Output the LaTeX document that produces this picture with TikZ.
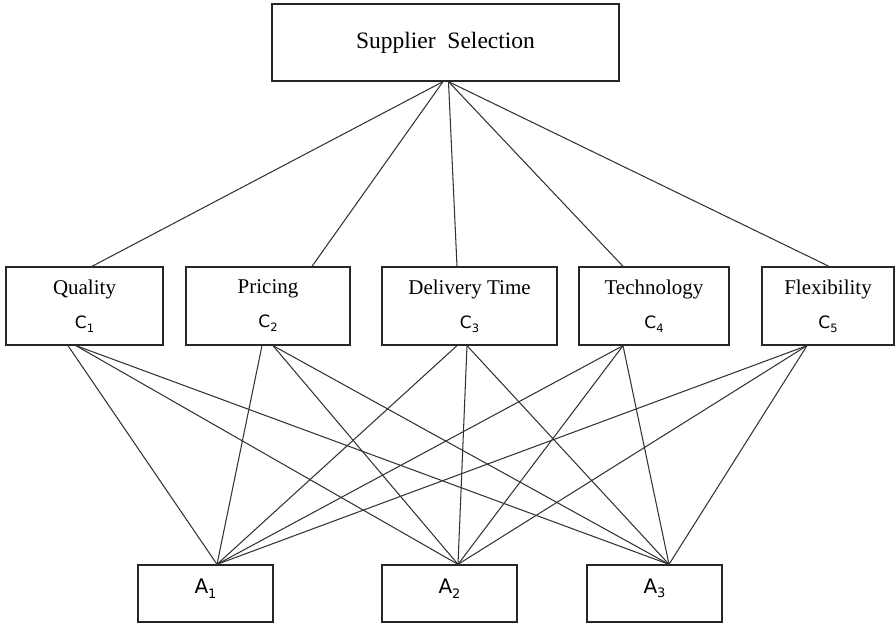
\documentclass[tikz,border=0pt]{standalone}
\usepackage{fontspec}
\setmainfont{Liberation Serif}
\newfontfamily\labsans{DejaVu Sans}
\newcommand{\critlab}[1]{{\labsans\fontsize{17}{17}\selectfont C\raisebox{-4pt}{\fontsize{11.5}{12}\selectfont #1}}}
\newcommand{\altlab}[1]{{\labsans\fontsize{20}{20}\selectfont A\raisebox{-4.5pt}{\fontsize{13}{13}\selectfont #1}}}
\begin{document}
\begin{tikzpicture}[x=1pt,y=-1pt,
  box/.style={draw=black!85, line width=1.3pt, inner sep=0pt, align=center},
  critbox/.style={box, minimum height=78pt, font=\fontsize{21}{24}\selectfont},
  altbox/.style={box, minimum width=135pt, minimum height=57pt},
  link/.style={draw=black!80, line width=1.05pt}]
\useasboundingbox (0,0) rectangle (895,623);
% top
\node[box, minimum width=347pt, minimum height=77pt, font=\fontsize{23.5}{26}\selectfont] (top) at (445.5,42.5) {Supplier~~Selection};
% criteria
\node[critbox, minimum width=157pt] (q) at (84.5,306) {Quality\\[10pt]\critlab{1}};
\node[critbox, minimum width=164pt] (p) at (268,306) {Pricing\\[10pt]\critlab{2}};
\node[critbox, minimum width=175pt] (d) at (469.5,306) {Delivery Time\\[10pt]\critlab{3}};
\node[critbox, minimum width=150pt] (t) at (654,306) {Technology\\[10pt]\critlab{4}};
\node[critbox, minimum width=132pt] (f) at (828,306) {Flexibility\\[10pt]\critlab{5}};
% alternatives
\node[altbox] (a1) at (205.5,593.5) {};
\node[altbox] (a2) at (449.5,593.5) {};
\node[altbox] (a3) at (654.5,593.5) {};
\node (a1t) at ([yshift=5pt]a1.center) {\altlab{1}};
\node (a2t) at ([yshift=5pt]a2.center) {\altlab{2}};
\node (a3t) at ([yshift=5pt]a3.center) {\altlab{3}};
% top links
\draw[link] ([xshift=-2.5pt]top.south) -- ([xshift=7.5pt]q.north);
\draw[link] ([xshift=-2.5pt]top.south) -- ([xshift=44pt]p.north);
\draw[link] ([xshift=3pt]top.south) -- ([xshift=-12.5pt]d.north);
\draw[link] ([xshift=3pt]top.south) -- ([xshift=-31pt]t.north);
\draw[link] ([xshift=3pt]top.south) -- ([xshift=1pt]f.north);
% bottom links
\draw[link] ([xshift=-16.5pt]q.south) -- ([xshift=11.5pt]a1.north);
\draw[link] ([xshift=-8.5pt]q.south) -- ([xshift=8.5pt]a2.north);
\draw[link] ([xshift=-8.5pt]q.south) -- ([xshift=14.5pt]a3.north);
\draw[link] ([xshift=-6pt]p.south) -- ([xshift=11.5pt]a1.north);
\draw[link] ([xshift=5pt]p.south) -- ([xshift=8.5pt]a2.north);
\draw[link] ([xshift=5pt]p.south) -- ([xshift=14.5pt]a3.north);
\draw[link] ([xshift=-12.5pt]d.south) -- ([xshift=11.5pt]a1.north);
\draw[link] ([xshift=-2.5pt]d.south) -- ([xshift=8.5pt]a2.north);
\draw[link] ([xshift=-2.5pt]d.south) -- ([xshift=14.5pt]a3.north);
\draw[link] ([xshift=-31pt]t.south) -- ([xshift=11.5pt]a1.north);
\draw[link] ([xshift=-31pt]t.south) -- ([xshift=8.5pt]a2.north);
\draw[link] ([xshift=-31pt]t.south) -- ([xshift=14.5pt]a3.north);
\draw[link] ([xshift=-21pt]f.south) -- ([xshift=11.5pt]a1.north);
\draw[link] ([xshift=-21pt]f.south) -- ([xshift=8.5pt]a2.north);
\draw[link] ([xshift=-21pt]f.south) -- ([xshift=14.5pt]a3.north);
\end{tikzpicture}
\end{document}
